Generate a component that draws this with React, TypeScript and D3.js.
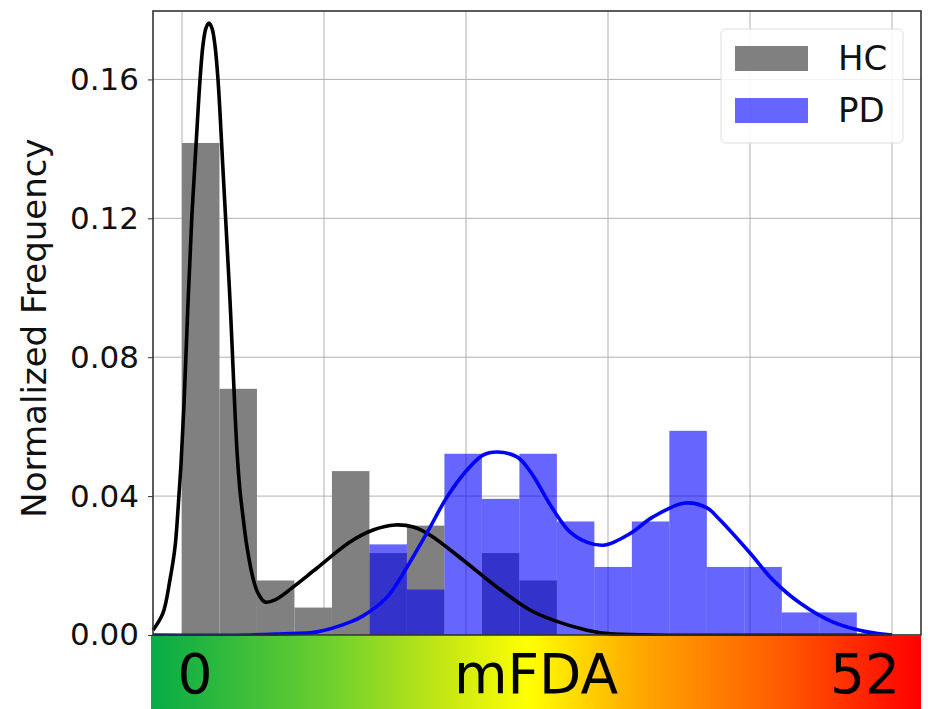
import * as d3 from "d3";
import { useEffect, useRef } from "react";

// histogram bins (shared width), normalized heights
const binWidth = 2.64;
const hcStart = 0;
const hcHeights = [0.1417, 0.0709, 0.0157, 0.0079, 0.0472, 0.0236, 0.0315, 0, 0.0236, 0.0157];
const pdStart = 13.2;
const pdHeights = [0.0261, 0.0131, 0.0522, 0.0392, 0.0522, 0.0327, 0.0196, 0.0327, 0.0588, 0.0196, 0.0196, 0.0065, 0.0065];

// KDE curves
const hcKdeX = [-2.04, -1.34, -0.85, -0.49, -0.28, -0.07, 0.14, 0.42, 0.7, 0.99, 1.27, 1.48, 1.69, 1.9, 2.11, 2.32, 2.54, 2.89, 3.38, 3.87, 4.08, 4.3, 4.58, 5.0, 5.35, 5.85, 6.55, 7.82, 9.51, 11.83, 13.5, 15.0, 16.3, 17.46, 19.79, 22.18, 24.51, 26.13, 28.52, 30.0, 33.0, 50.0];
const hcKdeY = [0.0014, 0.0063, 0.0158, 0.0253, 0.036, 0.049, 0.0662, 0.095, 0.1209, 0.1411, 0.1598, 0.1699, 0.1748, 0.1762, 0.1748, 0.1699, 0.1598, 0.1339, 0.0965, 0.0533, 0.0418, 0.034, 0.0253, 0.0164, 0.0121, 0.0095, 0.0101, 0.0138, 0.0193, 0.0268, 0.0303, 0.0317, 0.0311, 0.0288, 0.0216, 0.0138, 0.0072, 0.0043, 0.0014, 0.0004, 0, 0];
const pdKdeX = [-2.04, 4.8, 6.9, 9.51, 11.83, 12.75, 14.44, 15.85, 17.25, 18.66, 20.07, 21.2, 22.18, 23.59, 24.51, 26.13, 27.32, 28.6, 29.79, 31.55, 33.17, 35.42, 36.97, 37.89, 40.0, 41.62, 43.52, 45.85, 48.24, 50.0];
const pdKdeY = [0, 0, 0.0003, 0.0009, 0.0037, 0.0055, 0.0109, 0.0196, 0.0294, 0.0397, 0.0475, 0.0518, 0.0527, 0.0513, 0.0472, 0.0362, 0.0297, 0.0266, 0.0259, 0.0292, 0.034, 0.038, 0.0366, 0.0331, 0.0236, 0.0158, 0.0092, 0.0037, 0.0009, 0];

const yTicks = [0, 0.04, 0.08, 0.12, 0.16];
const xGrid = [0, 10, 20, 30, 40, 50];
const seriesNames = ["HC", "PD"];
const scaleLabels = ["0", "mFDA", "52"];

const FONT = "DejaVu Sans, sans-serif";

export default function App() {
  const ref = useRef<SVGSVGElement>(null);

  useEffect(() => {
    const W = 928, H = 709;
    const left = 153, right = 921, top = 11, bottom = 635;

    const svg = d3.select(ref.current);
    svg.selectAll("*").remove();

    const x = d3.scaleLinear().domain([-2.04, 52.04]).range([left, right]);
    const y = d3.scaleLinear().domain([0, 0.1797]).range([bottom, top]);

    const color = d3.scaleOrdinal<string>().domain(seriesNames).range(["#808080", "#0000ff"]);

    svg.append("rect").attr("width", W).attr("height", H).attr("fill", "white");

    // grid
    const grid = svg.append("g").attr("stroke", "#b0b0b0").attr("stroke-width", 1);
    grid.selectAll("line.v").data(xGrid).join("line")
      .attr("x1", d => x(d)).attr("x2", d => x(d))
      .attr("y1", top).attr("y2", bottom);
    grid.selectAll("line.h").data(yTicks).join("line")
      .attr("x1", left).attr("x2", right)
      .attr("y1", d => y(d)).attr("y2", d => y(d));

    // histograms
    svg.append("g").selectAll("rect")
      .data(hcHeights)
      .join("rect")
      .attr("x", (d, i) => x(hcStart + i * binWidth))
      .attr("width", x(binWidth) - x(0))
      .attr("y", d => y(d))
      .attr("height", d => bottom - y(d))
      .attr("fill", color("HC"));

    svg.append("g").selectAll("rect")
      .data(pdHeights)
      .join("rect")
      .attr("x", (d, i) => x(pdStart + i * binWidth))
      .attr("width", x(binWidth) - x(0))
      .attr("y", d => y(d))
      .attr("height", d => bottom - y(d))
      .attr("fill", color("PD"))
      .attr("fill-opacity", 0.6);

    // kde lines
    const line = d3.line<[number, number]>()
      .x(d => x(d[0]))
      .y(d => Math.min(bottom, y(d[1])))
      .curve(d3.curveCatmullRom.alpha(0.5));

    svg.append("path")
      .attr("d", line(hcKdeX.map((v, i) => [v, hcKdeY[i]] as [number, number])))
      .attr("fill", "none").attr("stroke", "black").attr("stroke-width", 3.6)
      .attr("stroke-linejoin", "round");
    svg.append("path")
      .attr("d", line(pdKdeX.map((v, i) => [v, pdKdeY[i]] as [number, number])))
      .attr("fill", "none").attr("stroke", "#0000ff").attr("stroke-width", 3.6)
      .attr("stroke-linejoin", "round");

    // frame
    svg.append("rect")
      .attr("x", left).attr("y", top)
      .attr("width", right - left).attr("height", bottom - top)
      .attr("fill", "none").attr("stroke", "#333").attr("stroke-width", 1.6);

    // y axis
    const yAxis = d3.axisLeft(y).tickValues(yTicks).tickFormat(d3.format(".2f")).tickSize(5).tickPadding(9);
    const ya = svg.append("g").attr("transform", `translate(${left},0)`).call(yAxis);
    ya.select(".domain").remove();
    ya.selectAll("text").attr("font-size", 31).attr("font-family", FONT).attr("fill", "#111");
    ya.selectAll("line").attr("stroke", "#333");

    svg.append("text")
      .attr("transform", `translate(46,${(top + bottom) / 2 + 5}) rotate(-90)`)
      .attr("text-anchor", "middle")
      .attr("font-size", 34)
      .attr("font-family", FONT)
      .attr("fill", "#111")
      .text("Normalized Frequency");

    // legend
    const lg = svg.append("g");
    lg.append("rect")
      .attr("x", 721).attr("y", 29).attr("width", 182).attr("height", 114).attr("rx", 5)
      .attr("fill", "white").attr("fill-opacity", 0.85).attr("stroke", "#dddddd");
    const items = lg.selectAll("g.item").data(seriesNames).join("g")
      .attr("transform", (d, i) => `translate(735,${46 + i * 52})`);
    items.append("rect").attr("width", 73).attr("height", 25)
      .attr("fill", d => color(d)).attr("fill-opacity", d => d === "PD" ? 0.6 : 1);
    items.append("text").attr("x", 103).attr("y", 24)
      .attr("font-size", 34).attr("font-family", FONT).attr("fill", "#111")
      .text(d => d);

    // colour bar
    const defs = svg.append("defs");
    const grad = defs.append("linearGradient").attr("id", "mfda").attr("x1", "0").attr("x2", "1");
    const stops: [number, string][] = [
      [0, "#06ab48"], [0.236, "#6fd02d"], [0.375, "#c2e614"], [0.49, "#ffff00"],
      [0.635, "#ffa800"], [0.82, "#ff5a00"], [1, "#ff0000"],
    ];
    grad.selectAll("stop").data(stops).join("stop")
      .attr("offset", d => d[0]).attr("stop-color", d => d[1]);
    svg.append("rect").attr("x", 151).attr("y", 636).attr("width", 770).attr("height", 73)
      .attr("fill", "url(#mfda)");
    const labelX = [195, 536, 865];
    svg.selectAll("text.scale").data(scaleLabels).join("text")
      .attr("x", (d, i) => labelX[i]).attr("y", 693)
      .attr("text-anchor", "middle")
      .attr("font-size", 55).attr("font-family", FONT).attr("fill", "black")
      .text(d => d);
  }, []);

  return (
    <svg ref={ref} width={928} height={709} style={{ position: "absolute", left: 0, top: 0 }} />
  );
}
